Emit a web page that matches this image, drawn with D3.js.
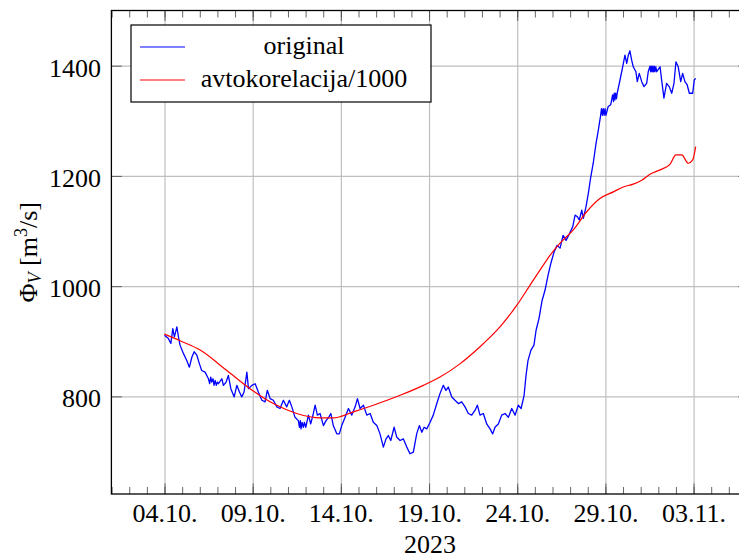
<!DOCTYPE html>
<html>
<head>
<meta charset="utf-8">
<script src="https://cdn.jsdelivr.net/npm/d3@7"></script>
<style>
  html, body { margin: 0; padding: 0; background: #fff; }
  svg { display: block; }
</style>
</head>
<body>
<script>
// All day offsets count from 04.10.2023 00:00 (UTC)
var start = Date.UTC(2023, 9, 4);

var blueDays = [
    0.00, 0.22, 0.36, 0.47, 0.56, 0.70, 0.79, 0.88, 1.07, 1.26,
    1.41, 1.55, 1.68, 1.83, 1.98, 2.11, 2.30,
    2.49, 2.56, 2.62, 2.68, 2.75, 2.81, 2.87, 2.94, 3.00, 3.06,
    3.25, 3.34, 3.49, 3.62, 3.76, 3.95, 4.10, 4.25, 4.38,
    4.51, 4.67, 4.76, 4.95, 5.14, 5.32, 5.52, 5.70, 5.83, 5.99,
    6.17, 6.37, 6.55, 6.74, 6.93, 7.08, 7.22, 7.40,
    7.59, 7.65, 7.70, 7.74, 7.80, 7.87, 7.93, 8.01,
    8.16, 8.29, 8.44, 8.54, 8.67, 8.82, 9.01, 9.16,
    9.31, 9.43, 9.57, 9.77, 9.91, 10.05, 10.24, 10.43, 10.62, 10.81,
    10.94, 11.09, 11.28, 11.47, 11.66, 11.84, 12.04, 12.22, 12.41, 12.56,
    12.69, 12.83, 13.02, 13.17, 13.36, 13.54, 13.74, 13.92, 14.11, 14.30,
    14.45, 14.59, 14.72, 14.87, 15.06, 15.24, 15.44, 15.62, 15.81, 15.96,
    16.09, 16.29, 16.47, 16.66, 16.85, 17.04, 17.23, 17.42, 17.61, 17.74,
    17.89, 18.08, 18.27, 18.46, 18.61, 18.74, 18.93, 19.12, 19.31, 19.50,
    19.69, 19.88, 20.06,
    20.22, 20.39, 20.50, 20.61, 20.78, 20.95, 21.07, 21.24, 21.41, 21.58,
    21.75, 21.92, 22.09, 22.26, 22.43, 22.60, 22.77, 22.96,
    23.15, 23.28, 23.41, 23.52, 23.66, 23.75, 23.90, 24.03, 24.17, 24.31,
    24.47, 24.60,
    24.73, 24.78, 24.83, 24.88, 24.93, 24.98, 25.03,
    25.16, 25.30,
    25.41, 25.46, 25.50, 25.54, 25.58, 25.63, 25.67,
    25.83, 25.98, 26.11, 26.21, 26.30, 26.39, 26.49, 26.58, 26.73, 26.81,
    26.92, 27.06, 27.19, 27.34, 27.43,
    27.53, 27.57, 27.61, 27.65, 27.69, 27.73, 27.77, 27.81, 27.86, 27.91,
    28.10, 28.19,
    28.32, 28.47, 28.62, 28.76, 28.89, 29.00, 29.13, 29.27, 29.38, 29.51,
    29.64, 29.76, 29.95, 30.04, 30.12
];
var blueFlow = [
    911, 905, 896, 923, 908, 926, 908, 893, 878, 865,
    853, 871, 881, 875, 859, 847, 844,
    832, 823, 835, 826, 832, 820, 829, 820, 826, 823,
    832, 820, 826, 838, 814, 799, 820, 808, 799,
    808, 844, 814, 820, 823, 808, 793, 790, 811, 796,
    793, 781, 778, 793, 781, 793, 781, 762,
    756, 744, 756, 741, 753, 744, 753, 744,
    766, 750, 769, 784, 766, 769, 747, 756,
    762, 769, 747, 732, 732, 747, 762, 778, 766, 781,
    796, 778, 784, 766, 769, 753, 747, 732, 708, 723,
    729, 720, 744, 726, 720, 723, 708, 696, 699, 732,
    747, 735, 744, 741, 753, 766, 787, 805, 820, 811,
    817, 799, 793, 787, 790, 781, 769, 766, 775, 784,
    766, 769, 750, 741, 732, 744, 750, 766, 769, 762,
    778, 766, 784,
    778, 802, 838, 865, 884, 893, 920, 942, 974, 993,
    1020, 1043, 1062, 1074, 1069, 1092, 1083, 1095,
    1108, 1129, 1126, 1120, 1138, 1123, 1144, 1168, 1198, 1223,
    1259, 1283,
    1310, 1322, 1310, 1322, 1310, 1322, 1310,
    1326, 1329,
    1347, 1335, 1350, 1338, 1350, 1340, 1350,
    1374, 1398, 1419, 1404, 1419, 1427, 1410, 1398, 1389, 1371,
    1386, 1371, 1362, 1368, 1389,
    1399, 1389, 1399, 1389, 1399, 1389, 1399, 1389, 1398, 1389,
    1398, 1374,
    1341, 1368, 1362, 1350, 1368, 1407, 1398, 1371, 1386, 1371,
    1365, 1350, 1350, 1374, 1377
];

// Autocorrelation / 1000 (red)
var redDays = [
    0.00, 0.88, 2.02, 3.53, 4.85, 6.17, 7.50, 8.82, 9.57, 10.71,
    11.84, 13.36, 14.68, 15.62, 16.75, 17.89, 19.02, 19.97, 20.73, 21.29,
    21.86, 22.43, 23.18, 23.94, 24.69, 25.45, 26.01, 26.58, 27.06, 27.53,
    28.10, 28.66, 29.00, 29.33, 29.70, 29.95, 30.12
];
var redFlow = [
    913, 901, 884, 847, 814, 787, 769, 761, 761, 772,
    784, 802, 820, 835, 859, 890, 926, 965, 1002, 1029,
    1056, 1078, 1102, 1135, 1159, 1171, 1180, 1185, 1192, 1203,
    1211, 1221, 1238, 1238, 1223, 1229, 1253
];

// Ticks
var xTickDays = [0, 5, 10, 15, 20, 25, 30],
    xTickLabels = ['04.10.', '09.10.', '14.10.', '19.10.', '24.10.', '29.10.', '03.11.'],
    yTicks = [800, 1000, 1200, 1400];

// Legend
var legendNames = ['original', 'avtokorelacija/1000'],
    seriesColors = ['#0000ff', '#ff0000'];

// Style configuration
var fontName = 'Liberation Serif',
    gridColor = '#bfbfbf',
    tickColor = '#555',
    fontSize = 26,
    majorTick = 10.5,
    minorTick = 7;

var margin = {top: 10.5, left: 111.4},
    width = 637.4,
    height = 483.5;

function day(t) { return new Date(start + t * 864e5); }

var blue = blueDays.map(function(t, i) { return {date: day(t), v: blueFlow[i]}; });
var red = redDays.map(function(t, i) { return {date: day(t), v: redFlow[i]}; });

// pgfplots style: enlarge limits by 10% of the data range
var tExt = d3.extent(blueDays),
    vExt = d3.extent(blueFlow),
    tPad = (tExt[1] - tExt[0]) * 0.1,
    vPad = (vExt[1] - vExt[0]) * 0.1;

var x = d3.scaleUtc()
    .domain([day(tExt[0] - tPad), day(tExt[1] + tPad)])
    .range([0, width]);
var y = d3.scaleLinear()
    .domain([vExt[0] - vPad, vExt[1] + vPad])
    .range([height, 0]);

var majorDates = xTickDays.map(day),
    minorDates = d3.utcDay.range(x.domain()[0], x.domain()[1]);

var svg = d3.select('body').append('svg')
    .attr('width', 739)
    .attr('height', 560)
    .attr('font-family', fontName);

var wrap = svg.append('g')
    .attr('transform', 'translate(' + margin.left + ',' + margin.top + ')');

// Grid
wrap.append('g')
    .attr('class', 'grid')
    .call(d3.axisBottom(x).tickValues(majorDates).tickSize(height).tickFormat(''));
wrap.append('g')
    .attr('class', 'grid')
    .call(d3.axisLeft(y).tickValues(yTicks).tickSize(-width).tickFormat(''));
wrap.selectAll('.grid .domain').remove();
wrap.selectAll('.grid line').attr('stroke', gridColor).attr('stroke-width', 1.2);

// Minor ticks (every day), top and bottom
wrap.append('g')
    .attr('class', 'tk')
    .attr('transform', 'translate(0,' + height + ')')
    .call(d3.axisBottom(x).tickValues(minorDates).tickSize(-minorTick).tickFormat(''));
wrap.append('g')
    .attr('class', 'tk')
    .call(d3.axisTop(x).tickValues(minorDates).tickSize(-minorTick).tickFormat(''));

// Major ticks with labels
var xAxis = d3.axisBottom(x)
    .tickValues(majorDates)
    .tickFormat(function(d, i) { return xTickLabels[i]; })
    .tickSizeInner(-majorTick)
    .tickSizeOuter(0)
    .tickPadding(10);
var yAxis = d3.axisLeft(y)
    .tickValues(yTicks)
    .tickFormat(d3.format('d'))
    .tickSizeInner(-majorTick)
    .tickSizeOuter(0)
    .tickPadding(10.4);

wrap.append('g')
    .attr('class', 'tk x')
    .attr('transform', 'translate(0,' + height + ')')
    .call(xAxis);
wrap.append('g')
    .attr('class', 'tk y')
    .call(yAxis);
wrap.append('g')
    .attr('class', 'tk')
    .call(d3.axisTop(x).tickValues(majorDates).tickSize(-majorTick).tickFormat(''));
wrap.append('g')
    .attr('class', 'tk')
    .attr('transform', 'translate(' + width + ',0)')
    .call(d3.axisRight(y).tickValues(yTicks).tickSize(-majorTick).tickFormat(''));

wrap.selectAll('.tk, .grid')
    .attr('font-family', fontName)
    .attr('font-size', fontSize);
wrap.selectAll('.tk .domain').remove();
wrap.selectAll('.tk line').attr('stroke', tickColor).attr('stroke-width', 0.9);
wrap.selectAll('.tk text')
    .attr('fill', '#000')
    .attr('font-family', fontName)
    .attr('font-size', fontSize);
wrap.selectAll('.tk.y text').attr('dy', '0.4em');

// Lines
var line = d3.line()
    .x(function(d) { return x(d.date); })
    .y(function(d) { return y(d.v); });

wrap.append('path')
    .datum(blue)
    .attr('fill', 'none')
    .attr('stroke', seriesColors[0])
    .attr('stroke-width', 1.3)
    .attr('stroke-linejoin', 'round')
    .attr('d', line);

wrap.append('path')
    .datum(red)
    .attr('fill', 'none')
    .attr('stroke', seriesColors[1])
    .attr('stroke-width', 1.2)
    .attr('d', line.curve(d3.curveMonotoneX));

// Axis box
wrap.append('rect')
    .attr('width', width)
    .attr('height', height)
    .attr('fill', 'none')
    .attr('stroke', '#000')
    .attr('stroke-width', 1.3);

// Axis titles
svg.append('text')
    .attr('x', margin.left + width / 2)
    .attr('y', 553)
    .attr('text-anchor', 'middle')
    .attr('font-family', fontName)
    .attr('font-size', fontSize)
    .text('2023');

var yTitle = svg.append('text')
    .attr('transform', 'translate(37,' + (margin.top + height / 2) + ') rotate(-90)')
    .attr('text-anchor', 'middle')
    .attr('font-family', fontName)
    .attr('font-size', fontSize);
yTitle.append('tspan').text('\u03A6');
yTitle.append('tspan').attr('font-style', 'italic').attr('font-size', 18).attr('dy', 4).text('V');
yTitle.append('tspan').attr('dy', -4).text(' [m');
yTitle.append('tspan').attr('font-size', 18).attr('dy', -10).text('3');
yTitle.append('tspan').attr('dy', 10).text('/s]');

// Legend
var legend = svg.append('g');
legend.append('rect')
    .attr('x', 131)
    .attr('y', 25)
    .attr('width', 300)
    .attr('height', 77)
    .attr('fill', '#fff')
    .attr('stroke', '#000')
    .attr('stroke-width', 1.2);

legendNames.forEach(function(name, i) {
    var ly = 47 + i * 33;
    legend.append('line')
	.attr('x1', 140).attr('x2', 185)
	.attr('y1', ly).attr('y2', ly)
	.attr('stroke', seriesColors[i])
	.attr('stroke-width', 1.2);
    legend.append('text')
	.attr('x', 304)
	.attr('y', ly + 7)
	.attr('text-anchor', 'middle')
	.attr('font-family', fontName)
	.attr('font-size', fontSize)
	.text(name);
});
</script>
</body>
</html>
